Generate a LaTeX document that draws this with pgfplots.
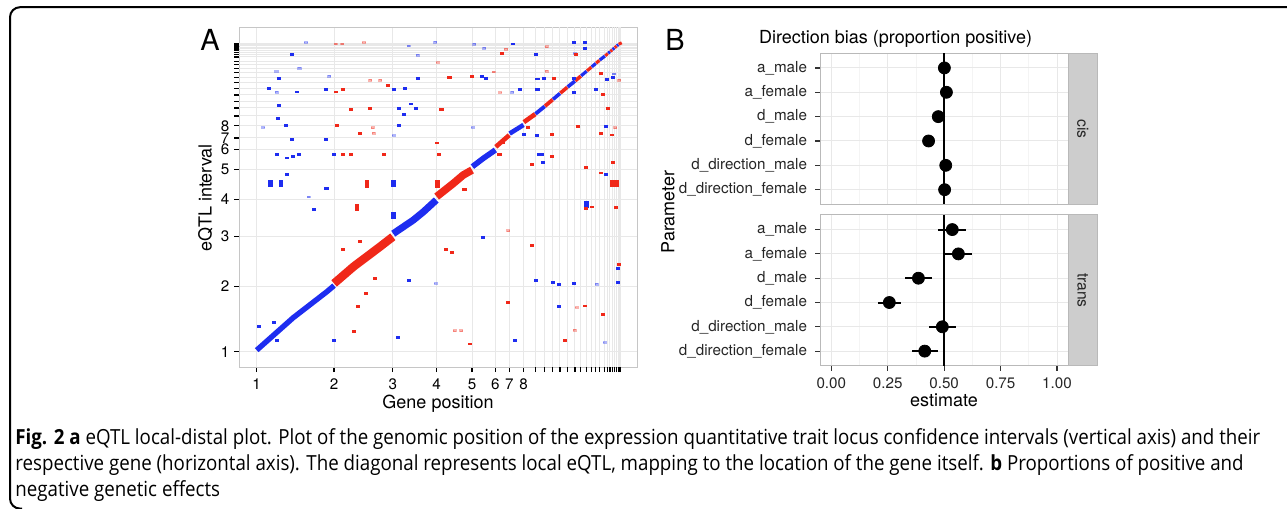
\documentclass[border=0pt]{standalone}
\usepackage{pgfplots}
\pgfplotsset{compat=1.18}
\usepackage{fontspec}
\setmainfont{TeX Gyre Heros}
\newfontfamily\capfont[FakeStretch=0.9]{Open Sans}

\definecolor{myblue}{RGB}{30,45,240}
\definecolor{myred}{RGB}{240,40,25}
\definecolor{gridgray}{RGB}{232,232,232}
\definecolor{minorgray}{RGB}{244,244,244}
\definecolor{stripgray}{RGB}{205,205,205}

\pgfplotsset{
  dot/.style={only marks, mark=square*, mark size=0.45bp, mark options={xscale=1.7}},
  big/.style={only marks, mark=square*, mark size=0.85bp, mark options={yscale=1.8}},
  ticktext/.style={font=\fontsize{7.6bp}{9bp}\selectfont, text=black!85},
}

\begin{document}
\begin{tikzpicture}
\useasboundingbox (0,0) rectangle (643.5bp,-254.5bp);
% frame
\draw[line width=1bp, rounded corners=5bp] (650bp,-3.6bp) -- (5bp,-3.6bp) -- (5bp,-254.3bp) -- (11bp,-254.3bp);

% ---------------- panel A ----------------
\begin{axis}[
  at={(119.5bp,-183.5bp)}, anchor=south west,
  width=199bp, height=170bp, scale only axis,
  xmin=-4.85, xmax=104.2, ymin=-4.95, ymax=105.1,
  axis line style={gray!45, line width=0.5bp},
  tick pos=left, tick align=outside,
  major tick length=2.5bp,
  tick style={black, line width=0.6bp},
  xtick={0,21.2,37.3,49.3,59.0,65.4,69.2,73.1},
  xticklabels={1,2,3,4,5,6,7,8},
  ytick={0,21.2,37.3,49.3,59.0,65.4,69.2,73.1},
  yticklabels={1,2,3,4,5,6,7,8},
  extra x ticks={76.3,78.9,81.1,83.1,85.1,87.2,88.8,90.4,91.7,92.9,93.9,95.4,96.2,96.8,97.4,98.0,98.6,99.1,99.4,99.7},
  extra y ticks={76.3,78.9,81.1,83.1,85.1,87.2,88.8,90.4,91.7,92.9,93.9,95.4,96.2,96.8,97.4,98.0,98.6,99.1,99.4,99.7},
  extra x tick labels={}, extra y tick labels={},
  extra tick style={grid=major},
  grid=major,
  major grid style={gridgray, line width=0.5bp},
  ticklabel style={font=\fontsize{7.6bp}{9bp}\selectfont, text=black},
  yticklabel style={inner sep=0.6bp, xshift=-1.5bp},
  /pgf/number format/assume math mode=true,
  clip=false,
]
% diagonal, one segment per chromosome
\addplot[myblue, line width=2.7bp] coordinates {(0,0.5)(10.0,11.0)(19.2,19.4)(21.2,21.4)};
\addplot[myred, line width=4.2bp] coordinates {(21.2,22.1)(26.5,27.5)(30.1,30.7)(33.8,34.0)(37.3,37.2)};
\addplot[myblue, line width=3.5bp] coordinates {(37.4,38.2)(42.9,42.6)(45.7,45.3)(49.2,49.1)};
\addplot[myred, line width=3.8bp] coordinates {(49.3,50.2)(53.9,54.5)(56.6,57.2)(59.0,58.8)};
\addplot[myblue, line width=2.8bp] coordinates {(59.1,59.9)(62.1,62.6)(65.4,65.3)};
\addplot[myred, line width=2.3bp] coordinates {(65.5,66.3)(69.2,70.1)};
\addplot[myblue, line width=2.3bp] coordinates {(69.3,70.6)(73.1,73.4)};
\addplot[myred, line width=2.3bp] coordinates {(73.2,74.3)(76.3,76.9)};
\addplot[myblue, line width=1.9bp] coordinates {(76.4,77.0)(78.9,79.4)};
\addplot[myred, line width=1.9bp] coordinates {(79.0,79.5)(81.1,81.6)};
\addplot[myblue, line width=1.8bp] coordinates {(81.2,81.7)(83.1,83.6)};
\addplot[myred, line width=1.8bp] coordinates {(83.2,83.7)(85.1,85.6)};
\addplot[myblue, line width=1.8bp] coordinates {(85.2,85.7)(87.2,87.6)};
\addplot[myred, line width=1.8bp] coordinates {(87.3,87.7)(88.8,89.2)};
\addplot[myblue, line width=1.6bp] coordinates {(88.9,89.3)(90.4,90.8)};
\addplot[myred, line width=1.6bp] coordinates {(90.5,90.9)(91.7,92.1)};
\addplot[myblue, line width=1.6bp] coordinates {(91.8,92.2)(92.9,93.3)};
\addplot[myred, line width=1.6bp] coordinates {(93.0,93.4)(93.9,94.3)};
\addplot[myblue, line width=1.6bp] coordinates {(94.0,94.4)(95.4,95.7)};
\addplot[myred, line width=1.5bp] coordinates {(95.5,95.8)(96.2,96.5)};
\addplot[myblue, line width=1.5bp] coordinates {(96.3,96.6)(96.8,97.1)};
\addplot[myred, line width=1.5bp] coordinates {(96.9,97.2)(97.4,97.7)};
\addplot[myblue, line width=1.5bp] coordinates {(97.5,97.8)(98.0,98.3)};
\addplot[myred, line width=1.5bp] coordinates {(98.1,98.4)(98.6,98.9)};
\addplot[myblue, line width=1.5bp] coordinates {(98.7,99.0)(99.1,99.4)};
\addplot[myred, line width=1.5bp] coordinates {(99.2,99.5)(100,100)};
% distal eQTL
\addplot[dot, myblue] coordinates {(0.7,8.3)(4.7,9.5)(5.5,3.6)(21.2,3.6)(38.6,4.6)(70.8,3.6)(8.2,57.4)(5.5,63.9)(8.2,62.7)(10.0,63.1)(11.6,63.9)(9.7,68.7)(8.1,73.2)(5.7,75.5)(6.2,79.8)(3.3,85.2)(6.1,88.5)(11.1,84.1)(9.7,96.3)(15.7,46.1)(18.9,68.8)(19.1,52.8)(18.9,85.0)(21.2,63.9)(37.7,84.8)(40.6,85.2)(39.0,78.7)(42.2,80.2)(43.7,78.7)(40.3,76.7)(39.0,73.2)(44.2,88.5)(41.6,23.0)(61.9,37.0)(61.7,89.2)(62.8,88.5)(70.3,99.6)(72.1,85.0)(73.1,70.4)(76.5,23.0)(76.8,70.0)(77.2,63.9)(78.2,63.9)(78.4,61.3)(76.9,88.3)(78.6,88.5)(76.9,84.8)(76.4,96.3)(81.1,22.4)(82.7,21.9)(86.8,22.2)(82.9,14.6)(86.9,88.5)(87.0,84.0)(86.8,100.1)(89.8,100.0)(89.8,98.2)(93.0,85.0)(95.9,88.1)(97.7,88.7)(95.7,57.5)(95.7,72.8)(99.0,27.0)(98.9,22.4)};
\addplot[dot, myblue, opacity=0.35] coordinates {(1.8,72.6)(5.4,90.7)(5.5,84.0)(13.5,100.1)(11.7,91.8)(14.2,50.1)(19.9,89.2)(37.5,70.0)(44.1,96.0)(41.7,99.0)(49.0,22.1)(48.9,100.2)(59.2,72.6)(59.6,99.5)(62.3,98.3)(70.0,84.0)(87.2,96.5)(93.1,21.9)(97.9,89.9)(95.3,3.0)};
\addplot[big, myblue] coordinates {(3.8,54.5)(6.6,54.5)(37.5,54.5)(37.4,44.2)(90.3,47.6)};
\addplot[dot, myred] coordinates {(21.7,84.1)(23.7,84.9)(25.8,78.5)(31.1,78.7)(36.0,86.3)(22.1,73.2)(28.3,70.7)(23.7,63.9)(25.8,63.9)(34.9,63.9)(23.7,33.1)(28.3,35.8)(32.5,23.8)(29.9,18.9)(27.8,14.6)(26.6,6.5)(49.5,67.6)(49.8,63.9)(50.6,78.4)(52.8,88.7)(59.0,89.2)(56.9,52.6)(51.8,33.1)(53.5,32.1)(58.4,2.5)(67.1,96.5)(66.5,63.9)(67.4,67.6)(68.9,15.9)(74.4,72.6)(75.3,60.6)(75.3,34.5)(81.5,88.5)(80.8,63.1)(81.0,70.3)(84.5,3.6)(90.0,14.8)(88.1,72.8)(90.1,59.7)(90.2,46.4)(91.8,46.9)(94.3,70.7)(97.4,70.2)(96.2,78.7)(94.8,83.4)(94.2,57.9)(97.5,61.3)(98.4,46.6)(99.2,28.3)(94.9,12.2)(94.2,90.1)(87.4,96.2)};
\addplot[dot, myred, opacity=0.35] coordinates {(21.6,99.6)(23.4,99.6)(29.4,100.1)(31.1,87.9)(33.8,87.9)(31.8,72.5)(32.1,70.7)(49.6,93.6)(54.3,6.8)(56.0,6.8)(65.0,90.6)(68.3,97.9)(66.7,83.9)(68.9,39.2)(79.5,90.8)(79.5,98.7)(87.2,7.0)(87.7,14.3)(98.2,72.5)(99.3,87.9)};
\addplot[big, myred] coordinates {(30.2,54.3)(27.5,46.7)(49.5,54.3)(97.4,54.5)(98.6,54.5)};
\end{axis}

% ---------------- panel B ----------------
\pgfplotsset{
  panelB/.style={
    width=124.15bp, scale only axis,
    xmin=-0.05, xmax=1.05, ymin=0.4, ymax=6.6, y dir=reverse,
    axis line style={gray!55, line width=0.5bp},
    tick pos=left, tick align=outside,
    major tick length=2.5bp, minor tick length=0pt,
    tick style={black!80, line width=0.6bp},
    xtick={0,0.25,0.5,0.75,1}, minor x tick num=1,
    ytick={1,2,3,4,5,6},
    yticklabels={a\_male,a\_female,d\_male,d\_female,d\_direction\_male,d\_direction\_female},
    xmajorgrids, xminorgrids, ymajorgrids,
    major grid style={gridgray, line width=0.5bp},
    minor grid style={minorgray, line width=0.4bp},
    ticklabel style={ticktext},
    yticklabel style={xshift=-0.5bp},
    /pgf/number format/assume math mode=true,
    clip=false,
  },
  estpts/.style={only marks, mark=*, mark size=3bp, black,
    error bars/.cd, x dir=both, x explicit,
    error bar style={black, line width=1bp}, error mark=none},
}
\begin{axis}[panelB, at={(410bp,-102.15bp)}, anchor=south west, height=75.5bp,
  xticklabels={}, xtick style={draw=none}]
\addplot[black, line width=0.8bp] coordinates {(0.5,0.4)(0.5,6.6)};
\addplot[estpts] table[x=x, y=y, x error plus=ep, x error minus=em] {
y x ep em
1 0.501 0.015 0.015
2 0.510 0.018 0.018
3 0.474 0.015 0.015
4 0.431 0.015 0.015
5 0.507 0.018 0.018
6 0.502 0.015 0.015
};
\fill[stripgray] (rel axis cs:1,0) rectangle ([xshift=14.5bp]rel axis cs:1,1);
\draw[gray!55, line width=0.5bp] (rel axis cs:1,0) rectangle ([xshift=14.5bp]rel axis cs:1,1);
\node[rotate=-90, font=\fontsize{7.8bp}{9bp}\selectfont, text=black!85] at ([xshift=7.25bp]rel axis cs:1,0.5) {cis};
\end{axis}

\begin{axis}[panelB, at={(410bp,-182.85bp)}, anchor=south west, height=75.35bp,
  xticklabel style={/pgf/number format/.cd, fixed, fixed zerofill, precision=2}]
\addplot[black, line width=0.8bp] coordinates {(0.5,0.4)(0.5,6.6)};
\addplot[estpts] table[x=x, y=y, x error plus=ep, x error minus=em] {
y x ep em
1 0.536 0.059 0.062
2 0.563 0.059 0.061
3 0.386 0.062 0.060
4 0.257 0.053 0.052
5 0.492 0.062 0.059
6 0.414 0.059 0.057
};
\fill[stripgray] (rel axis cs:1,0) rectangle ([xshift=14.5bp]rel axis cs:1,1);
\draw[gray!55, line width=0.5bp] (rel axis cs:1,0) rectangle ([xshift=14.5bp]rel axis cs:1,1);
\node[rotate=-90, font=\fontsize{7.8bp}{9bp}\selectfont, text=black!85] at ([xshift=7.25bp]rel axis cs:1,0.5) {trans};
\end{axis}

% ---------------- titles and labels ----------------
\node[font=\fontsize{14.5bp}{16bp}\selectfont] at (105bp,-20bp) {A};
\node[font=\fontsize{14.5bp}{16bp}\selectfont] at (337.5bp,-20bp) {B};
\node[font=\fontsize{9bp}{11bp}\selectfont, rotate=90] at (102.75bp,-99bp) {eQTL interval};
\node[font=\fontsize{9bp}{11bp}\selectfont, anchor=base] at (219bp,-204bp) {Gene position};
\node[font=\fontsize{9bp}{11bp}\selectfont, rotate=90] at (334bp,-106bp) {Parameter};
\node[font=\fontsize{9bp}{11bp}\selectfont, anchor=base] at (472bp,-203.3bp) {estimate};
\node[font=\fontsize{9bp}{11bp}\selectfont, anchor=base] at (447.75bp,-21.5bp) {Direction bias (proportion positive)};

% ---------------- caption ----------------
\begin{scope}[every node/.style={anchor=base west, inner sep=0pt, font=\capfont\fontsize{10.4bp}{12bp}\selectfont}]
\node at (7.5bp,-222bp) {\textbf{Fig. 2 a} eQTL local-distal plot. Plot of the genomic position of the expression quantitative trait locus confidence intervals (vertical axis) and their};
\node at (7.5bp,-235bp) {respective gene (horizontal axis). The diagonal represents local eQTL, mapping to the location of the gene itself. \textbf{b} Proportions of positive and};
\node at (7.5bp,-248bp) {negative genetic effects};
\end{scope}
\end{tikzpicture}
\end{document}
